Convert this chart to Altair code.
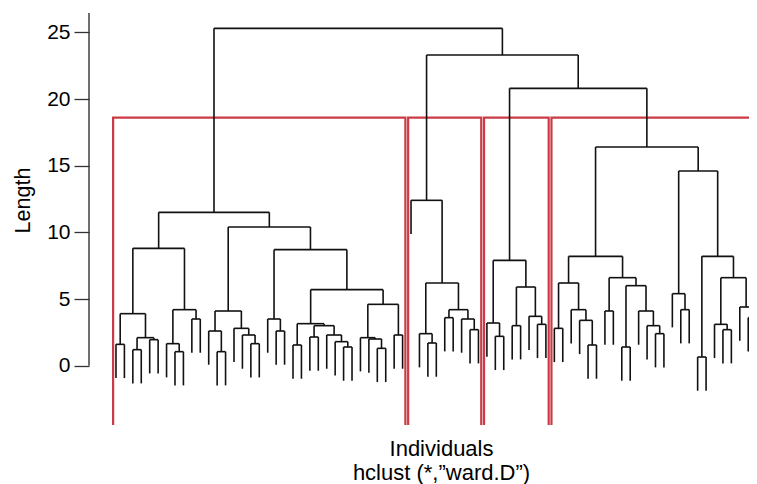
import altair as alt
import pandas as pd

L = 0  # an individual (leaf)

# Dendrogram merge heights, nested as (height, left, right); L = individual
cluster1 = (11.5,
    (8.8,
        (3.9, (1.6, L, L), (2.1, (1.2, L, L), (1.95, L, L))),
        (4.2, (1.65, L, (1.05, L, L)), (3.5, L, L))),
    (10.4,
        (4.1, (2.6, L, (1.05, L, L)), (2.8, L, (2.3, L, (1.65, L, L)))),
        (8.7,
            (3.5, L, (2.6, L, L)),
            (5.7,
                (3.15, (1.55, L, L), (3.0, (2.15, L, L), (2.3, L, (1.8, L, (1.4, L, L))))),
                (4.6, (2.1, L, (2.0, L, (1.3, L, L))), (2.3, L, L))))))
cluster2 = (12.4, L, (6.2, (2.4, L, (1.7, L, L)), (4.2, (3.6, L, L), (3.5, L, (2.7, L, L)))))
cluster3 = (7.9, (3.2, L, (2.2, L, L)), (5.9, (3.0, L, L), (3.7, L, (3.1, L, L))))
cluster4 = (16.4,
    (8.2,
        (6.2, (2.8, L, L), (4.2, L, (3.4, L, (1.55, L, L)))),
        (6.6, (4.1, L, L), (6.0, (1.4, L, L), (4.1, L, (3.0, L, (2.4, L, L)))))),
    (14.6,
        (5.4, L, (4.2, L, L)),
        (8.2, (0.65, L, L), (6.6, (3.1, L, (2.7, L, L)), (4.4, L, (3.6, L, L))))))
upper_heights = [20.8, 23.3, 25.3]   # cl3+cl4, cl2+(cl3,cl4), root
cluster_sizes = [35, 9, 8, 25]
y_ticks = [0, 5, 10, 15, 20, 25]
hang_frac = 0.1

root = (upper_heights[2], cluster1,
        (upper_heights[1], cluster2, (upper_heights[0], cluster3, cluster4)))

# ---- collect all merge heights to get hang
def heights(n):
    if not isinstance(n, tuple):
        return []
    return [n[0]] + heights(n[1]) + heights(n[2])

all_h = heights(root)
hang = hang_frac * max(all_h)

segs = []
counter = [0]

def layout(node):
    if not isinstance(node, tuple):
        counter[0] += 1
        return counter[0], None
    h, a, b = node
    xa, ha = layout(a)
    xb, hb = layout(b)
    for xc, hc in ((xa, ha), (xb, hb)):
        segs.append(dict(x=xc, x2=xc, y=h, y2=hc if hc is not None else h - hang))
    segs.append(dict(x=xa, x2=xb, y=h, y2=h))
    return (xa + xb) / 2, h

layout(root)
seg_df = pd.DataFrame(segs)

# rect.hclust style boxes for k = 4
k = 4
sorted_h = sorted(all_h)
cut = (sorted_h[-(k - 1)] + sorted_h[-k]) / 2
bounds = [0]
for s in cluster_sizes:
    bounds.append(bounds[-1] + s)
rect_df = pd.DataFrame({
    "x": [bounds[i] + 0.66 for i in range(k)],
    "x2": [bounds[i + 1] + 0.33 for i in range(k)],
    "y": [cut] * k,
    "y2": [-10] * k,
})

PLOT_W = 660
y_dom = [-4.45, 26.45]
x_dom = [-2.2, -2.2 + PLOT_W / 8.43]
FONT = "Liberation Sans"

xs = alt.Scale(domain=x_dom, nice=False, zero=False)
ys = alt.Scale(domain=y_dom, nice=False, zero=False)

x_axis = alt.Axis(labels=False, ticks=False, domain=False, grid=False,
                  title=["Individuals", "hclust (*,\u201dward.D\u201d)"],
                  titleFont=FONT, titleFontSize=22, titleFontWeight="normal",
                  titleColor="black", titleX=352, titleY=30.5,
                  titleBaseline="alphabetic", titleAlign="center",
                  titleLineHeight=23.5)
y_axis = alt.Axis(values=y_ticks, tickSize=15, tickWidth=1.3, tickColor="#333",
                  labelFont=FONT, labelFontSize=21, labelColor="black",
                  labelPadding=4, domain=False, grid=False,
                  title="Length", titleFont=FONT, titleFontSize=21.5,
                  titleFontWeight="normal", titleColor="black",
                  titleX=-60, titleY=187, titleAngle=270,
                  titleBaseline="alphabetic", titleAlign="center")

tree = alt.Chart(seg_df).mark_rule(color="#111", strokeWidth=1.6).encode(
    x=alt.X("x:Q", scale=xs, axis=x_axis),
    x2="x2:Q",
    y=alt.Y("y:Q", scale=ys, axis=y_axis),
    y2="y2:Q",
)

boxes = alt.Chart(rect_df).mark_rect(filled=False, stroke="#cc3b45",
                                     strokeWidth=2.2, clip=True).encode(
    x=alt.X("x:Q", scale=xs), x2="x2:Q",
    y=alt.Y("y:Q", scale=ys), y2="y2:Q",
)

axis_line = alt.Chart(pd.DataFrame({"y": [0], "y2": [y_dom[1]]})).mark_rule(
    color="#333", strokeWidth=1.4).encode(
    x=alt.value(0),
    y=alt.Y("y:Q", scale=ys), y2="y2:Q",
)

chart = alt.layer(boxes, tree, axis_line).properties(
    width=PLOT_W, height=412,
    autosize=alt.AutoSizeParams(type="none"),
    padding={"left": 81, "top": 5, "right": 0, "bottom": 59},
    background="white",
).configure_view(stroke=None)

chart.save("out.html", embed_options={"renderer": "svg", "actions": False})
